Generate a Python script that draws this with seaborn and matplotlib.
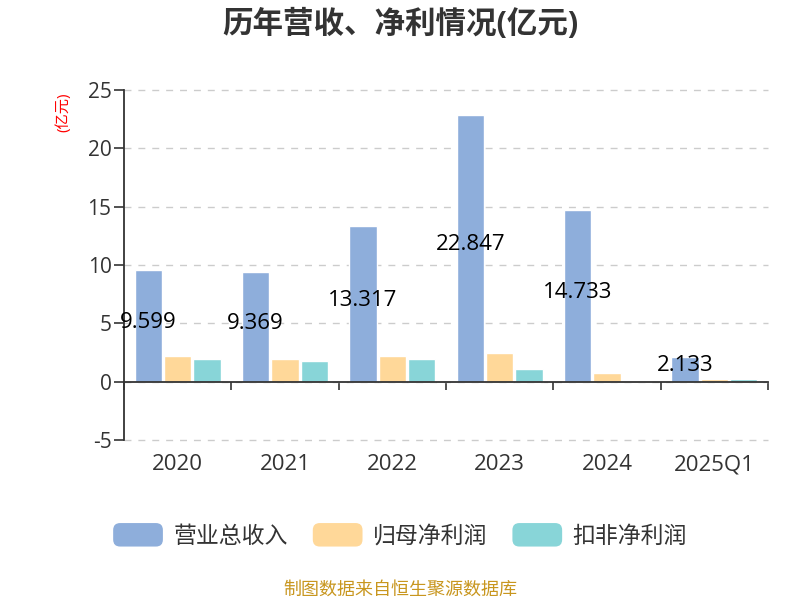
import matplotlib
matplotlib.use("Agg")
import matplotlib.pyplot as plt
import seaborn as sns
import pandas as pd
from matplotlib.patches import FancyBboxPatch
from matplotlib.legend_handler import HandlerPatch

# 数据（亿元）
years = ["2020", "2021", "2022", "2023", "2024", "2025Q1"]
revenue = [9.599, 9.369, 13.317, 22.847, 14.733, 2.133]
parent_profit = [2.23, 1.94, 2.20, 2.46, 0.71, 0.23]
deducted_profit = [1.97, 1.77, 1.97, 1.11, 0.06, 0.20]
series_names = ["营业总收入", "归母净利润", "扣非净利润"]
colors = ["#8eaedb", "#ffd899", "#88d5d8"]

sns.set_theme(style="white")
plt.rcParams["font.family"] = ["Open Sans", "Noto Sans CJK SC", "DejaVu Sans"]
plt.rcParams["axes.unicode_minus"] = False

rows = []
for name, vals in zip(series_names, [revenue, parent_profit, deducted_profit]):
    for y, v in zip(years, vals):
        rows.append({"year": y, "series": name, "value": v})
df = pd.DataFrame(rows)

fig = plt.figure(figsize=(8, 6), dpi=100)
ax = fig.add_axes([0.155, 0.2667, 0.805, 0.5833])

sns.barplot(data=df, x="year", y="value", hue="series", hue_order=series_names,
            order=years, palette=colors, width=0.82, gap=0.06, ax=ax,
            saturation=1, legend=False)

ax.set_ylim(-5, 25)
ax.set_xlim(-0.5, len(years) - 0.5)
ax.set_yticks(range(-5, 26, 5))
ax.yaxis.grid(True, color="#cccccc", linestyle=(0, (5, 5)), linewidth=1)
for gl in ax.get_ygridlines():
    gl.set_clip_on(False)
ax.set_axisbelow(True)
ax.set_xlabel("")
ax.set_ylabel("")

for s in ["top", "right"]:
    ax.spines[s].set_visible(False)
ax.spines["left"].set_color("#333333")
ax.spines["bottom"].set_color("#333333")
ax.spines["left"].set_linewidth(1.3)
ax.spines["bottom"].set_linewidth(1.3)
ax.spines["bottom"].set_position(("data", 0))

ax.tick_params(axis="y", length=7, width=1.2, color="#333333", labelsize=15,
               labelcolor="#333333", direction="out", left=True, pad=2)
ax.set_xticks([i - 0.5 for i in range(len(years) + 1)])
ax.set_xticklabels([])
ax.tick_params(axis="x", length=6, width=1.2, color="#333333", direction="out", bottom=True)

for i, y in enumerate(years):
    ax.text(i, -0.071, y, transform=ax.get_xaxis_transform(), ha="center", va="center",
            fontsize=16, color="#333333")

# 营业总收入数值标签（柱中部）
for bar, v in zip(ax.containers[0], revenue):
    ax.text(bar.get_x() + bar.get_width() / 2, bar.get_height() / 2 + 0.3, f"{v:.3f}",
            ha="center", va="center", fontsize=16, color="black")

fig.text(0.079, 0.813, "(亿元)", rotation=90, color="red", fontsize=11,
         ha="center", va="center")

fig.text(0.5, 0.96, "历年营收、净利情况(亿元)", ha="center", va="center",
         fontsize=22, fontweight="bold", color="#333333")


def rounded(legend, orig_handle, xdescent, ydescent, width, height, fontsize):
    return FancyBboxPatch((-xdescent, -ydescent), width, height,
                          boxstyle="round,pad=0,rounding_size=5")


handles = [plt.Rectangle((0, 0), 1, 1, facecolor=c, edgecolor="none") for c in colors]
fig.legend(handles, series_names, loc="center", bbox_to_anchor=(0.5, 0.107), ncol=3,
           frameon=False, fontsize=16.5, handlelength=2.17, handleheight=1.2,
           handletextpad=0.45, columnspacing=1.1, labelcolor="#333333",
           handler_map={plt.Rectangle: HandlerPatch(patch_func=rounded)})

fig.text(0.5, 0.0167, "制图数据来自恒生聚源数据库", ha="center", va="center",
         fontsize=13, color="#c8961e")

fig.savefig("out.png", dpi=100)
